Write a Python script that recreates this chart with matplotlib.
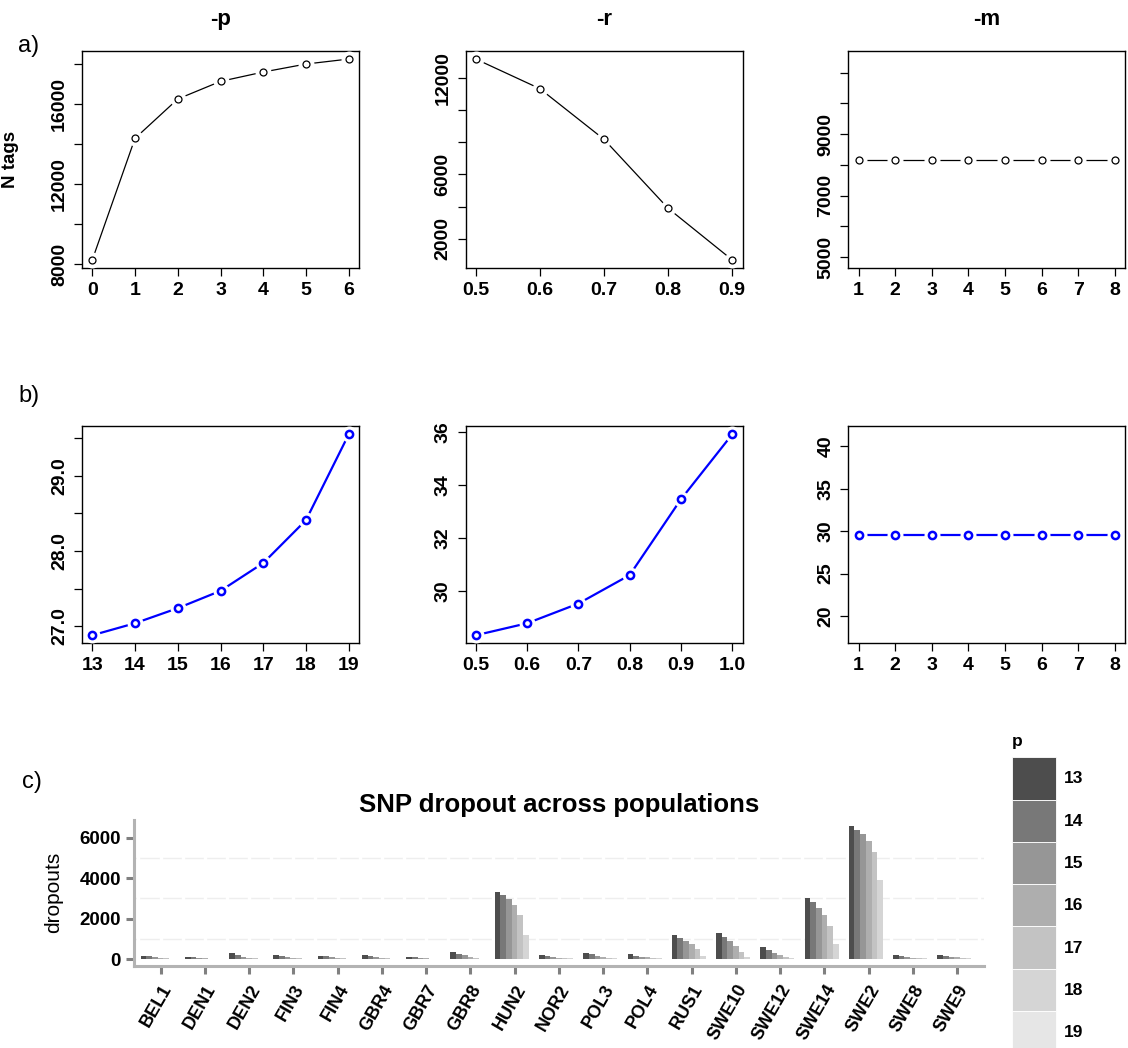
import numpy as np
import matplotlib
matplotlib.use("Agg")
import matplotlib.pyplot as plt
from matplotlib.patches import Patch

plt.rcParams["font.family"] = ["Liberation Sans", "DejaVu Sans"]

# a) numero de tags segun -p, -r, -m
p_vals = [0, 1, 2, 3, 4, 5, 6]
p_tags = [8217, 14300, 16267, 17150, 17617, 18017, 18267]
r_vals = [0.5, 0.6, 0.7, 0.8, 0.9]
r_tags = [13157, 11318, 8177, 3901, 698]
m_vals = [1, 2, 3, 4, 5, 6, 7, 8]
m_tags = [8174, 8174, 8174, 8174, 8174, 8174, 8174, 8174]

# b) segunda fila (azul)
p_vals_b = [13, 14, 15, 16, 17, 18, 19]
p_cov = [26.88, 27.04, 27.24, 27.47, 27.84, 28.41, 29.55]
r_vals_b = [0.5, 0.6, 0.7, 0.8, 0.9, 1.0]
r_cov = [28.35, 28.80, 29.54, 30.61, 33.46, 35.90]
m_cov = [29.57, 29.57, 29.57, 29.57, 29.57, 29.57, 29.57, 29.57]

# c) dropouts por poblacion y nivel de p
pops = ["BEL1", "DEN1", "DEN2", "FIN3", "FIN4", "GBR4", "GBR7", "GBR8", "HUN2",
        "NOR2", "POL3", "POL4", "RUS1", "SWE10", "SWE12", "SWE14", "SWE2",
        "SWE8", "SWE9"]
p_levels = ["13", "14", "15", "16", "17", "18", "19"]
d13 = [165, 100, 285, 185, 150, 185, 115, 335, 3320, 185, 300, 235, 1185, 1265, 585, 3035, 6565, 185, 185]
d14 = [135, 85, 200, 165, 135, 150, 100, 265, 3185, 150, 250, 165, 1050, 1085, 435, 2835, 6400, 135, 150]
d15 = [85, 50, 115, 115, 85, 100, 65, 185, 2950, 100, 165, 115, 915, 885, 285, 2550, 6165, 100, 115]
d16 = [50, 35, 65, 65, 50, 65, 35, 100, 2665, 65, 115, 85, 735, 635, 185, 2185, 5850, 65, 85]
d17 = [35, 15, 35, 35, 35, 35, 15, 50, 2185, 50, 65, 50, 500, 335, 85, 1615, 5300, 50, 50]
d18 = [15, 15, 15, 15, 15, 15, 15, 15, 1200, 35, 35, 35, 165, 100, 35, 735, 3915, 35, 35]
d19 = [0] * 19
grey_fill = ["#4D4D4D", "#787878", "#969696", "#AEAEAE", "#C3C3C3", "#D5D5D5", "#E6E6E6"]

W, H = 1128, 1048
fig = plt.figure(figsize=(W / 100, H / 100), dpi=100)
fig.patch.set_facecolor("white")


def r_lim(v):
    lo, hi = min(v), max(v)
    d = 0.04 * (hi - lo)
    return lo - d, hi + d


def r_panel(rect, x, y, color, lw, ms, mew, yticks, ylabels, ylim=None):
    ax = fig.add_axes(rect)
    ax.plot(x, y, color=color, lw=lw, zorder=2)
    # hueco alrededor de los puntos (type = "b" de R)
    ax.plot(x, y, ls="none", marker="o", ms=10.5, mfc="white", mec="white", zorder=3)
    ax.plot(x, y, ls="none", marker="o", ms=ms, mfc="white", mec=color, mew=mew, zorder=4)
    ax.set_xlim(r_lim(x))
    ax.set_ylim(ylim if ylim is not None else r_lim(y))
    ax.set_xticks(x, [f"{v:g}" if isinstance(v, int) else f"{v:.1f}" for v in x],
                  fontweight="bold", fontsize=14)
    ax.set_yticks(yticks, ylabels, fontweight="bold", fontsize=14,
                  rotation=90, va="center")
    ax.tick_params(direction="out", length=5.5, width=0.9, pad=4.5)
    for s in ax.spines.values():
        s.set_linewidth(1.0)
    return ax


def fx(px):
    return px / W


top_b, bot_b, hh = 1 - 268 / H, 1 - 643.3 / H, 217 / H
lefts = [fx(82), fx(465.5), fx(848.3)]
ww = 277 / W

# fila a)
ax1 = r_panel([lefts[0], top_b, ww, hh], p_vals, p_tags, "black", 0.9, 5, 0.9,
              [8000, 10000, 12000, 14000, 16000, 18000],
              ["8000", "", "12000", "", "16000", ""])
ax1.set_ylabel("N tags", fontweight="bold", fontsize=13.5)
ax1.yaxis.set_label_coords((19.5 - 82) / 277, 0.5)
ax2 = r_panel([lefts[1], top_b, ww, hh], r_vals, r_tags, "black", 0.9, 5, 0.9,
              [2000, 4000, 6000, 8000, 10000, 12000],
              ["2000", "", "6000", "", "", "12000"])
m_lo, m_hi = m_tags[0] * 0.6, m_tags[0] * 1.4
ax3 = r_panel([lefts[2], top_b, ww, hh], m_vals, m_tags, "black", 0.9, 5, 0.9,
              [5000, 6000, 7000, 8000, 9000, 10000, 11000],
              ["5000", "", "7000", "", "9000", "", ""], ylim=r_lim([m_lo, m_hi]))
for ax, t in zip([ax1, ax2, ax3], ["-p", "-r", "-m"]):
    ax.set_title(t, fontweight="bold", fontsize=16, pad=19)

# fila b)
bx1 = r_panel([lefts[0], bot_b, ww, hh], p_vals_b, p_cov, "#0000FF", 1.6, 5.2, 1.8,
              [27.0, 27.5, 28.0, 28.5, 29.0, 29.5],
              ["27.0", "", "28.0", "", "29.0", ""])
bx2 = r_panel([lefts[1], bot_b, ww, hh], r_vals_b, r_cov, "#0000FF", 1.6, 5.2, 1.8,
              [30, 32, 34, 36], ["30", "32", "34", "36"])
c_lo, c_hi = m_cov[0] * 0.6, m_cov[0] * 1.4
bx3 = r_panel([lefts[2], bot_b, ww, hh], m_vals, m_cov, "#0000FF", 1.6, 5.2, 1.8,
              [20, 25, 30, 35, 40], ["20", "25", "30", "35", "40"],
              ylim=r_lim([c_lo, c_hi]))

# c) barras agrupadas
axc = fig.add_axes([fx(134), 1 - 965.7 / H, 849.8 / W, 145.7 / H])
xs = np.arange(len(pops))
bw = 0.9 / len(p_levels)
series = [d13, d14, d15, d16, d17, d18, d19]
for k, (vals, col) in enumerate(zip(series, grey_fill)):
    axc.bar(xs + (k - 3) * bw, vals, width=bw, color=col, lw=0, zorder=3)
axc.set_xlim(-0.6, len(pops) - 0.4)
axc.set_ylim(-330, 6880)
axc.set_yticks([0, 2000, 4000, 6000], ["0", "2000", "4000", "6000"],
               fontsize=13.5, fontweight="bold")
axc.set_yticks([1000, 3000, 5000], minor=True)
axc.grid(axis="y", which="minor", color="#EEEEEE", lw=1.0)
axc.vlines(np.arange(-0.5, len(pops), 0.5), -330, 6880, color="white", lw=2.5, zorder=2)
axc.set_xticks(xs, pops, fontsize=13, fontweight="bold", rotation=60, ha="right",
               va="top", rotation_mode="anchor")
axc.tick_params(axis="both", which="major", color="#808080", width=2.2, length=5.5, pad=4)
axc.tick_params(axis="x", pad=6)
axc.tick_params(axis="y", which="minor", length=0)
for side in ["top", "right"]:
    axc.spines[side].set_visible(False)
for side in ["left", "bottom"]:
    axc.spines[side].set_color("#B3B3B3")
    axc.spines[side].set_linewidth(2.2)
    axc.spines[side].set_zorder(4)
axc.set_ylabel("dropouts", fontsize=15)
axc.yaxis.set_label_coords((63 - 134) / 849.8, 0.5)
axc.set_title("SNP dropout across populations", fontweight="bold", fontsize=18.5, pad=6)

handles = [Patch(facecolor=c, edgecolor="white", lw=0.6, label=l)
           for c, l in zip(grey_fill, p_levels)]
leg = axc.legend(handles=handles, loc="upper left",
                 bbox_to_anchor=(fx(1012), 1 - 734 / H), bbox_transform=fig.transFigure,
                 frameon=False, borderpad=0, borderaxespad=0, labelspacing=0,
                 handlelength=2.52, handleheight=3.37, handletextpad=0.45,
                 prop={"weight": "bold", "size": 12.5}, title="p",
                 title_fontproperties={"weight": "bold", "size": 12.5}, alignment="left")
leg._legend_box.sep = 6  # hueco entre titulo y claves

# etiquetas de panel
fig.text(fx(18), 1 - 46 / H, "a)", fontsize=17, va="center", ha="left")
fig.text(fx(18), 1 - 396 / H, "b)", fontsize=17, va="center", ha="left")
fig.text(fx(22), 1 - 782 / H, "c)", fontsize=17, va="center", ha="left")

fig.savefig("out.png", dpi=100)
